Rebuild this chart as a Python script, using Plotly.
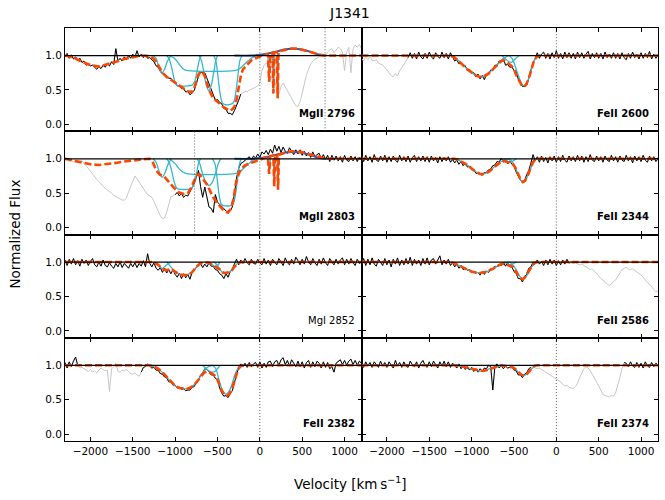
import plotly.graph_objects as go
from plotly.subplots import make_subplots

# Velocity grid (km/s) for the observed spectra
V = list(range(-2300, 1201, 25))

F_MGII2796 = [
    0.98, 1.03, 0.96, 1.01, 0.95, 0.98, 0.92, 0.96, 0.90, 0.92,
    0.86, 0.88, 0.85, 0.86, 0.83, 0.80, 0.84, 0.81, 0.86, 0.83,
    0.88, 0.85, 0.91, 0.87, 1.10, 0.92, 0.96, 0.92, 0.98, 0.94,
    1.00, 0.96, 1.02, 0.97, 1.07, 0.98, 1.02, 0.97, 1.01, 0.96,
    0.97, 0.94, 0.91, 0.85, 0.83, 0.77, 0.75, 0.71, 0.70, 0.67,
    0.67, 0.62, 0.62, 0.56, 0.56, 0.52, 0.52, 0.47, 0.48, 0.43,
    0.46, 0.49, 0.59, 0.70, 0.76, 0.76, 0.75, 0.67, 0.59, 0.49,
    0.41, 0.35, 0.36, 0.32, 0.30, 0.23, 0.22, 0.16, 0.16, 0.14,
    0.20, 0.27, 0.35, 0.44, 0.46, 0.48, 0.47, 0.50, 0.51, 0.52,
    0.54, 0.56, 0.60, 0.78, 0.86, 0.89, 0.85, 0.64, 0.72, 0.56,
    0.62, 0.44, 0.55, 0.60, 0.55, 0.48, 0.45, 0.38, 0.32, 0.27,
    0.26, 0.33, 0.45, 0.58, 0.72, 0.80, 0.88, 0.92, 0.95, 0.96,
    0.98, 1.00, 1.02, 0.99, 1.05, 1.08, 1.10, 1.04, 1.08, 1.12,
    1.10, 1.05, 0.78, 1.05, 1.12, 0.75, 1.10, 1.15, 1.12, 1.16,
    1.10]

F_MGII2803 = [
    0.97, 0.99, 0.96, 0.98, 0.95, 0.97, 0.98, 0.96, 0.97, 0.93,
    0.90, 0.86, 0.82, 0.78, 0.73, 0.70, 0.67, 0.63, 0.60, 0.57,
    0.55, 0.52, 0.50, 0.47, 0.45, 0.43, 0.42, 0.40, 0.40, 0.43,
    0.52, 0.60, 0.68, 0.75, 0.71, 0.66, 0.62, 0.55, 0.52, 0.48,
    0.46, 0.44, 0.38, 0.30, 0.24, 0.17, 0.13, 0.14, 0.22, 0.32,
    0.45, 0.46, 0.48, 0.51, 0.46, 0.50, 0.44, 0.47, 0.46, 0.53,
    0.58, 0.64, 0.72, 0.83, 0.60, 0.44, 0.59, 0.45, 0.30, 0.28,
    0.22, 0.48, 0.37, 0.34, 0.31, 0.27, 0.24, 0.21, 0.24, 0.30,
    0.49, 0.72, 0.86, 0.93, 0.95, 0.98, 1.00, 1.03, 0.98, 1.04,
    1.01, 1.07, 1.02, 1.10, 1.07, 1.12, 1.06, 1.14, 1.08, 1.20,
    1.11, 1.18, 1.09, 1.17, 1.11, 1.08, 1.16, 1.10, 1.06, 1.13,
    1.07, 1.13, 1.05, 1.11, 1.04, 1.09, 1.02, 1.10, 1.03, 1.06,
    1.08, 1.00, 1.06, 0.99, 1.05, 0.96, 1.05, 0.98, 1.04, 0.97,
    1.03, 0.95, 1.05, 0.98, 0.96, 1.04, 0.97, 1.03, 0.96, 1.02,
    1.00]

F_MGI2852 = [
    1.03, 0.95, 1.04, 0.97, 1.05, 0.96, 1.02, 0.94, 1.04, 0.98,
    1.03, 0.95, 1.01, 1.05, 0.96, 0.93, 1.00, 0.94, 1.03, 0.95,
    0.93, 0.99, 0.94, 0.91, 0.98, 0.93, 1.00, 0.92, 0.98, 0.94,
    0.91, 0.98, 0.93, 0.99, 0.92, 0.98, 0.94, 1.02, 0.93, 1.12,
    0.98, 0.93, 0.99, 0.91, 0.88, 0.92, 0.85, 0.91, 0.84, 0.89,
    0.83, 0.89, 0.82, 0.78, 0.84, 0.76, 0.83, 0.77, 0.82, 0.75,
    0.85, 0.88, 0.93, 0.96, 0.98, 0.92, 0.97, 0.93, 0.99, 0.94,
    0.94, 0.89, 0.88, 0.83, 0.81, 0.76, 0.83, 0.78, 0.86, 0.90,
    0.97, 1.04, 0.96, 1.03, 0.98, 1.05, 0.99, 0.96, 1.04, 0.98,
    0.97, 1.04, 0.99, 0.96, 1.05, 0.97, 1.03, 0.95, 1.04, 0.99,
    0.96, 1.05, 1.00, 0.95, 1.06, 0.99, 0.96, 1.04, 0.97, 1.07,
    1.02, 0.96, 1.04, 0.97, 1.08, 1.00, 0.96, 1.05, 0.99, 0.95,
    1.04, 0.97, 1.06, 0.99, 0.95, 1.05, 1.00, 0.96, 1.04, 0.97,
    1.03, 1.06, 0.96, 1.04, 0.97, 1.05, 0.99, 0.95, 1.04, 0.98,
    1.00]

F_FEII2600 = [
    0.96, 0.92, 0.98, 0.94, 0.99, 0.93, 0.92, 0.94, 0.89, 0.88,
    0.86, 0.83, 0.79, 0.75, 0.71, 0.69, 0.74, 0.70, 0.78, 0.82,
    0.88, 0.92, 0.97, 1.04, 0.96, 1.03, 0.95, 1.05, 0.98, 0.95,
    1.03, 0.96, 1.05, 0.98, 0.95, 1.04, 0.99, 0.96, 1.05, 0.97,
    1.03, 0.95, 1.04, 0.97, 0.92, 0.94, 0.88, 0.89, 0.84, 0.85,
    0.78, 0.80, 0.74, 0.75, 0.69, 0.73, 0.66, 0.71, 0.65, 0.72,
    0.72, 0.79, 0.78, 0.86, 0.85, 0.92, 0.91, 0.96, 0.86, 0.87,
    0.83, 0.84, 0.78, 0.77, 0.66, 0.61, 0.55, 0.55, 0.57, 0.67,
    0.77, 0.90, 0.95, 1.04, 0.96, 1.02, 1.05, 0.96, 1.03, 0.95,
    1.04, 0.97, 1.07, 0.96, 1.03, 0.95, 1.05, 0.97, 1.04, 0.96,
    1.03, 0.95, 1.05, 0.97, 1.04, 0.96, 1.02, 1.06, 0.95, 1.03,
    0.97, 1.04, 0.96, 1.03, 0.95, 1.05, 0.97, 1.02, 0.96, 1.04,
    0.96, 1.03, 0.95, 1.04, 0.97, 0.94, 1.03, 0.96, 1.05, 0.97,
    1.02, 0.95, 1.04, 0.96, 1.03, 0.97, 1.06, 0.95, 1.02, 0.96,
    1.01]

F_FEII2344 = [
    1.04, 0.96, 1.05, 0.97, 1.03, 0.95, 1.06, 0.98, 0.96, 1.04,
    0.97, 1.05, 0.95, 1.03, 0.96, 1.04, 0.98, 0.95, 1.05, 0.97,
    1.03, 0.96, 1.04, 0.95, 1.02, 1.05, 0.96, 1.03, 0.97, 1.04,
    0.96, 1.03, 0.95, 1.04, 0.97, 1.02, 0.94, 1.03, 0.96, 1.02,
    0.97, 1.03, 0.95, 0.99, 0.94, 0.98, 0.92, 0.96, 0.90, 0.94,
    0.88, 0.89, 0.84, 0.84, 0.79, 0.79, 0.78, 0.76, 0.80, 0.80,
    0.84, 0.85, 0.90, 0.91, 0.96, 0.95, 1.01, 0.95, 0.99, 0.93,
    0.97, 0.92, 0.90, 0.81, 0.75, 0.69, 0.67, 0.68, 0.77, 0.83,
    0.94, 1.06, 0.97, 1.03, 0.95, 1.04, 0.96, 1.02, 0.94, 1.03,
    0.97, 1.04, 0.95, 1.03, 0.96, 1.05, 0.98, 0.95, 1.04, 0.97,
    1.03, 0.96, 1.05, 0.97, 1.04, 0.95, 1.03, 0.96, 1.06, 0.98,
    0.96, 1.04, 0.97, 1.03, 0.95, 1.04, 0.98, 0.96, 1.05, 0.97,
    1.03, 0.95, 1.04, 0.98, 0.96, 1.05, 0.97, 1.03, 0.94, 1.04,
    0.97, 1.03, 0.96, 1.05, 0.98, 0.95, 1.04, 0.97, 1.03, 0.96,
    1.00]

F_FEII2586 = [
    0.98, 1.05, 0.95, 1.04, 0.96, 1.06, 0.97, 0.94, 1.04, 0.99,
    0.95, 1.05, 0.96, 1.03, 0.93, 1.04, 0.97, 1.06, 0.95, 1.03,
    0.96, 1.05, 0.97, 1.07, 0.95, 1.04, 0.97, 1.03, 0.95, 1.05,
    0.97, 1.06, 0.96, 1.03, 1.05, 0.97, 1.04, 1.09, 0.96, 1.03,
    0.97, 1.04, 0.95, 0.99, 0.93, 0.97, 0.91, 0.95, 0.89, 0.91,
    0.88, 0.89, 0.85, 0.86, 0.84, 0.85, 0.81, 0.86, 0.82, 0.87,
    0.85, 0.90, 0.89, 0.94, 0.93, 0.97, 0.95, 1.00, 0.94, 0.99,
    0.93, 0.93, 0.86, 0.84, 0.76, 0.76, 0.71, 0.79, 0.82, 0.91,
    0.93, 1.00, 0.98, 1.03, 0.97, 1.01, 0.95, 1.03, 0.96, 1.04,
    0.97, 1.03, 0.95, 1.02, 0.96, 1.03, 0.97, 1.04, 0.98, 0.99,
    0.98, 0.99, 0.97, 0.96, 0.97, 0.95, 0.93, 0.91, 0.89, 0.90,
    0.86, 0.84, 0.80, 0.76, 0.74, 0.70, 0.68, 0.66, 0.68, 0.72,
    0.74, 0.79, 0.84, 0.89, 0.91, 0.92, 0.90, 0.89, 0.90, 0.88,
    0.86, 0.83, 0.81, 0.78, 0.74, 0.70, 0.68, 0.63, 0.60, 0.57,
    0.58]

F_FEII2382 = [
    1.04, 0.96, 1.05, 0.98, 1.06, 1.12, 1.00, 0.96, 0.97, 0.95,
    0.93, 0.91, 0.94, 0.90, 0.92, 0.89, 0.93, 0.96, 0.94, 0.92,
    0.93, 0.62, 0.95, 0.98, 1.03, 0.91, 0.90, 0.93, 0.92, 0.94,
    0.91, 0.88, 0.87, 0.89, 0.86, 0.84, 0.90, 0.97, 0.98, 1.02,
    0.99, 0.96, 0.97, 0.93, 0.93, 0.88, 0.87, 0.83, 0.82, 0.76,
    0.76, 0.71, 0.71, 0.67, 0.68, 0.65, 0.66, 0.63, 0.64, 0.64,
    0.68, 0.69, 0.75, 0.78, 0.86, 0.89, 0.95, 0.94, 0.91, 0.86,
    0.86, 0.81, 0.79, 0.67, 0.60, 0.55, 0.56, 0.53, 0.59, 0.63,
    0.75, 0.88, 0.97, 1.02, 0.98, 1.03, 0.97, 1.04, 0.98, 1.02,
    1.04, 0.97, 1.05, 0.96, 1.03, 0.97, 1.05, 1.06, 0.98, 1.05,
    1.07, 1.00, 1.08, 1.11, 1.01, 1.07, 0.99, 1.08, 1.02, 0.98,
    1.06, 0.98, 1.05, 0.96, 1.04, 1.07, 0.97, 1.05, 0.98, 1.06,
    1.03, 0.96, 1.05, 0.97, 1.04, 0.95, 0.98, 0.90, 1.03, 1.06,
    1.08, 1.01, 1.07, 1.00, 1.06, 1.09, 1.01, 1.07, 1.00, 1.06,
    1.03]

F_FEII2374 = [
    1.03, 0.97, 1.05, 0.99, 1.04, 0.97, 1.05, 1.00, 0.97, 1.06,
    0.99, 1.04, 0.97, 1.05, 1.00, 0.96, 1.07, 0.99, 1.04, 0.97,
    1.05, 0.99, 0.97, 1.06, 1.01, 0.98, 1.05, 0.96, 1.03, 1.07,
    1.00, 0.97, 1.05, 0.98, 1.06, 1.01, 0.96, 1.05, 0.99, 1.06,
    0.98, 1.05, 0.97, 1.03, 0.99, 0.96, 1.02, 0.95, 1.00, 0.94,
    0.98, 0.93, 0.97, 0.91, 0.95, 0.90, 0.95, 0.91, 0.96, 0.95,
    1.00, 0.98, 0.64, 0.99, 1.02, 0.96, 1.00, 0.95, 0.99, 0.96,
    0.97, 0.99, 0.93, 0.92, 0.86, 0.86, 0.82, 0.87, 0.89, 0.95,
    0.97, 0.98, 0.96, 0.95, 0.96, 0.94, 0.93, 0.90, 0.88, 0.86,
    0.84, 0.82, 0.80, 0.78, 0.76, 0.72, 0.70, 0.71, 0.68, 0.67,
    0.66, 0.69, 0.74, 0.82, 0.90, 0.95, 0.98, 0.96, 0.92, 0.87,
    0.81, 0.76, 0.70, 0.64, 0.58, 0.56, 0.55, 0.54, 0.56, 0.55,
    0.60, 0.70, 0.82, 0.95, 1.04, 1.03, 0.98, 1.05, 0.99, 0.97,
    1.04, 0.97, 1.03, 0.96, 1.05, 0.99, 0.97, 1.04, 0.98, 1.03,
    1.00]

# ---------------- fitted model profiles (velocity, flux) ----------------
M_MGII2796 = [(-2300, 1.0), (-2200, 0.97), (-2100, 0.91), (-2000, 0.86), (-1900, 0.84),
              (-1800, 0.87), (-1700, 0.91), (-1600, 0.95), (-1500, 0.98), (-1400, 1.0),
              (-1300, 0.99), (-1250, 0.95), (-1200, 0.86), (-1150, 0.75), (-1100, 0.69),
              (-1050, 0.65), (-1000, 0.61), (-950, 0.56), (-900, 0.52), (-850, 0.48),
              (-800, 0.47), (-775, 0.53), (-750, 0.62), (-725, 0.72), (-700, 0.77),
              (-675, 0.76), (-650, 0.70), (-625, 0.60), (-600, 0.50), (-575, 0.44),
              (-550, 0.38), (-500, 0.33), (-450, 0.27), (-400, 0.23), (-350, 0.20),
              (-325, 0.22), (-300, 0.26), (-275, 0.36), (-250, 0.52), (-225, 0.70),
              (-200, 0.80), (-150, 0.87), (-100, 0.93), (-50, 0.96), (0, 0.99),
              (50, 1.01), (95, 1.02), (110, 0.62), (125, 1.03), (150, 1.04),
              (160, 0.45), (170, 1.04), (200, 1.05), (210, 0.38), (220, 1.05),
              (250, 1.07), (300, 1.08), (360, 1.10), (450, 1.10), (550, 1.07),
              (650, 1.03), (750, 1.0), (1200, 1.0)]

M_MGII2803 = [(-2300, 1.0), (-2200, 0.97), (-2100, 0.94), (-2000, 0.92), (-1900, 0.91),
              (-1800, 0.92), (-1700, 0.94), (-1600, 0.96), (-1500, 0.98), (-1400, 0.99),
              (-1300, 1.0), (-1270, 0.97), (-1240, 0.88), (-1210, 0.81), (-1180, 0.77),
              (-1150, 0.75), (-1125, 0.74), (-1100, 0.70), (-1050, 0.63), (-1000, 0.56),
              (-950, 0.51), (-900, 0.49), (-850, 0.50), (-815, 0.57), (-775, 0.68),
              (-740, 0.76), (-716, 0.78), (-690, 0.74), (-657, 0.68), (-620, 0.62),
              (-598, 0.56), (-560, 0.46), (-519, 0.38), (-480, 0.32), (-441, 0.27),
              (-400, 0.23), (-380, 0.22), (-342, 0.27), (-310, 0.42), (-283, 0.64),
              (-250, 0.78), (-224, 0.85), (-180, 0.90), (-126, 0.93), (-60, 0.96),
              (-8, 0.98), (40, 1.01), (95, 1.03), (110, 0.78), (125, 1.04),
              (160, 1.05), (170, 0.60), (180, 1.05), (205, 1.06), (215, 0.55),
              (225, 1.06), (300, 1.09), (380, 1.11), (480, 1.10), (580, 1.07),
              (680, 1.03), (780, 1.0), (1200, 1.0)]

M_MGI2852 = [(-2300, 1.0), (-1250, 1.0), (-1200, 0.96), (-1150, 0.90), (-1100, 0.88),
             (-1060, 0.89), (-1040, 0.90), (-1000, 0.86), (-950, 0.82), (-900, 0.81),
             (-850, 0.81), (-800, 0.85), (-750, 0.93), (-700, 0.98), (-650, 0.995),
             (-600, 0.99), (-560, 0.96), (-530, 0.93), (-500, 0.92), (-470, 0.89),
             (-440, 0.85), (-410, 0.84), (-370, 0.85), (-330, 0.88), (-300, 0.93),
             (-260, 0.98), (-220, 1.0), (1200, 1.0)]

M_FEII2600 = [(-2300, 1.0), (-1250, 1.0), (-1200, 0.97), (-1150, 0.92), (-1100, 0.86),
              (-1050, 0.80), (-1000, 0.75), (-950, 0.71), (-900, 0.69), (-850, 0.70),
              (-800, 0.74), (-750, 0.80), (-700, 0.87), (-650, 0.92), (-620, 0.93),
              (-590, 0.91), (-560, 0.88), (-530, 0.85), (-500, 0.80), (-470, 0.71),
              (-440, 0.63), (-410, 0.57), (-385, 0.55), (-360, 0.57), (-330, 0.65),
              (-300, 0.78), (-270, 0.90), (-240, 0.97), (-210, 1.0), (1200, 1.0)]

M_FEII2344 = [(-2300, 1.0), (-1200, 1.0), (-1150, 0.98), (-1100, 0.95), (-1050, 0.91),
              (-1000, 0.86), (-950, 0.81), (-900, 0.78), (-850, 0.78), (-800, 0.81),
              (-750, 0.86), (-700, 0.92), (-650, 0.96), (-620, 0.97), (-580, 0.95),
              (-540, 0.94), (-510, 0.92), (-480, 0.86), (-450, 0.76), (-420, 0.69),
              (-395, 0.66), (-370, 0.68), (-340, 0.75), (-310, 0.85), (-280, 0.94),
              (-250, 0.99), (-220, 1.0), (1200, 1.0)]

M_FEII2586 = [(-2300, 1.0), (-1250, 1.0), (-1200, 0.98), (-1150, 0.95), (-1100, 0.92),
              (-1050, 0.89), (-1000, 0.86), (-950, 0.85), (-900, 0.84), (-850, 0.85),
              (-800, 0.87), (-750, 0.90), (-700, 0.94), (-650, 0.97), (-620, 0.975),
              (-580, 0.96), (-540, 0.95), (-510, 0.93), (-480, 0.87), (-450, 0.80),
              (-420, 0.76), (-395, 0.75), (-370, 0.78), (-340, 0.84), (-310, 0.91),
              (-280, 0.96), (-250, 0.99), (-220, 1.0), (1200, 1.0)]

M_FEII2382 = [(-2300, 1.0), (-1300, 1.0), (-1250, 0.98), (-1200, 0.95), (-1150, 0.90),
              (-1100, 0.83), (-1050, 0.76), (-1000, 0.70), (-950, 0.67), (-900, 0.66),
              (-850, 0.66), (-800, 0.69), (-750, 0.75), (-700, 0.83), (-660, 0.89),
              (-630, 0.91), (-600, 0.90), (-570, 0.88), (-540, 0.86), (-510, 0.82),
              (-480, 0.73), (-450, 0.63), (-420, 0.58), (-390, 0.56), (-360, 0.58),
              (-330, 0.65), (-300, 0.77), (-270, 0.89), (-240, 0.97), (-210, 1.0),
              (1200, 1.0)]

M_FEII2374 = [(-2300, 1.0), (-1200, 1.0), (-1100, 0.98), (-1000, 0.95), (-950, 0.93),
              (-900, 0.92), (-850, 0.92), (-800, 0.94), (-750, 0.97), (-700, 0.99),
              (-650, 1.0), (-600, 0.99), (-560, 0.98), (-520, 0.97), (-480, 0.94),
              (-440, 0.89), (-410, 0.86), (-380, 0.85), (-350, 0.87), (-320, 0.91),
              (-290, 0.96), (-260, 0.99), (-230, 1.0), (1200, 1.0)]

# ---------------- individual velocity components (velocity, flux) ----------------
C_MGII2796 = [
    [(-1260, 1.0), (-1225, 0.96), (-1195, 0.84), (-1160, 0.74), (-1125, 0.80), (-1090, 0.92), (-1050, 1.0)],
    [(-1100, 1.0), (-1070, 0.95), (-1040, 0.82), (-1010, 0.65), (-990, 0.58), (-960, 0.56),
     (-850, 0.56), (-800, 0.57), (-770, 0.62), (-740, 0.78), (-715, 0.93), (-690, 1.0)],
    [(-1070, 1.0), (-1000, 0.95), (-950, 0.87), (-900, 0.80), (-850, 0.78), (-300, 0.78),
     (-250, 0.80), (-200, 0.85), (-150, 0.91), (-100, 0.96), (-40, 1.0)],
    [(-720, 1.0), (-690, 0.93), (-660, 0.75), (-630, 0.56), (-602, 0.49), (-575, 0.56),
     (-545, 0.75), (-520, 0.93), (-500, 1.0)],
    [(-545, 1.0), (-520, 0.93), (-495, 0.70), (-470, 0.45), (-445, 0.32), (-420, 0.29),
     (-350, 0.29), (-310, 0.32), (-285, 0.45), (-260, 0.70), (-235, 0.93), (-210, 1.0)],
]
C_MGII2803 = [
    [(-1260, 1.0), (-1225, 0.95), (-1190, 0.82), (-1155, 0.73), (-1115, 0.81), (-1080, 0.93), (-1045, 1.0)],
    [(-1100, 1.0), (-1070, 0.95), (-1040, 0.82), (-1010, 0.66), (-990, 0.59), (-960, 0.56),
     (-830, 0.56), (-800, 0.58), (-770, 0.66), (-745, 0.80), (-725, 0.93), (-700, 1.0)],
    [(-1070, 1.0), (-1000, 0.93), (-950, 0.85), (-900, 0.80), (-850, 0.78), (-320, 0.78),
     (-250, 0.80), (-200, 0.85), (-150, 0.91), (-100, 0.96), (-60, 1.0)],
    [(-740, 1.0), (-710, 0.93), (-680, 0.80), (-640, 0.66), (-600, 0.61), (-560, 0.66),
     (-520, 0.80), (-490, 0.93), (-460, 1.0)],
    [(-560, 1.0), (-530, 0.93), (-505, 0.72), (-480, 0.47), (-455, 0.34), (-430, 0.32),
     (-340, 0.32), (-310, 0.36), (-285, 0.50), (-260, 0.75), (-240, 0.93), (-220, 1.0)],
]
C_MGI2852 = [
    [(-1250, 1.0), (-1200, 0.96), (-1150, 0.905), (-1100, 0.96), (-1050, 1.0)],
    [(-1100, 1.0), (-1050, 0.93), (-1000, 0.86), (-900, 0.81), (-800, 0.85), (-750, 0.93), (-700, 1.0)],
    [(-600, 1.0), (-560, 0.96), (-530, 0.93), (-500, 0.95), (-470, 1.0)],
    [(-540, 1.0), (-500, 0.95), (-450, 0.86), (-410, 0.84), (-350, 0.86), (-300, 0.93), (-250, 1.0)],
]
C_FEII2600 = [
    [(-1250, 1.0), (-1150, 0.92), (-1050, 0.80), (-950, 0.71), (-880, 0.69), (-800, 0.74),
     (-700, 0.87), (-620, 0.96), (-560, 1.0)],
    [(-640, 1.0), (-600, 0.95), (-560, 0.91), (-530, 0.90), (-500, 0.93), (-470, 0.97), (-440, 1.0)],
    [(-560, 1.0), (-520, 0.95), (-470, 0.79), (-420, 0.62), (-385, 0.56), (-350, 0.60),
     (-310, 0.72), (-270, 0.90), (-230, 1.0)],
]
C_FEII2344 = [
    [(-1200, 1.0), (-1100, 0.95), (-1000, 0.86), (-920, 0.79), (-870, 0.78), (-800, 0.81),
     (-700, 0.92), (-620, 0.98), (-560, 1.0)],
    [(-620, 1.0), (-580, 0.97), (-545, 0.95), (-510, 0.97), (-470, 1.0)],
    [(-560, 1.0), (-520, 0.96), (-470, 0.83), (-430, 0.71), (-400, 0.67), (-370, 0.69),
     (-330, 0.77), (-290, 0.90), (-240, 1.0)],
]
C_FEII2586 = [
    [(-1250, 1.0), (-1150, 0.95), (-1050, 0.89), (-950, 0.85), (-880, 0.84), (-800, 0.87),
     (-700, 0.94), (-620, 0.99), (-560, 1.0)],
    [(-620, 1.0), (-580, 0.975), (-545, 0.96), (-510, 0.975), (-470, 1.0)],
    [(-560, 1.0), (-520, 0.97), (-470, 0.88), (-430, 0.79), (-400, 0.75), (-370, 0.77),
     (-330, 0.84), (-290, 0.93), (-240, 1.0)],
]
C_FEII2382 = [
    [(-1300, 1.0), (-1200, 0.95), (-1100, 0.83), (-1000, 0.70), (-900, 0.66), (-850, 0.66),
     (-750, 0.75), (-680, 0.88), (-620, 0.97), (-560, 1.0)],
    [(-680, 1.0), (-640, 0.96), (-600, 0.92), (-560, 0.90), (-530, 0.91), (-500, 0.95), (-470, 1.0)],
    [(-560, 1.0), (-520, 0.95), (-480, 0.78), (-440, 0.63), (-405, 0.58), (-370, 0.61),
     (-330, 0.72), (-290, 0.88), (-240, 1.0)],
]
C_FEII2374 = [
    [(-1200, 1.0), (-1100, 0.98), (-1000, 0.95), (-920, 0.92), (-850, 0.92), (-750, 0.97), (-650, 1.0)],
    [(-560, 1.0), (-500, 0.97), (-450, 0.90), (-400, 0.85), (-350, 0.87), (-300, 0.94), (-240, 1.0)],
]

# narrow absorbers near +100..+220 km/s (MgII only)
S_MGII2796 = [(95, 1.0), (110, 0.62), (125, 1.0), (None, None), (150, 1.0), (160, 0.45), (170, 1.0),
              (None, None), (200, 1.0), (210, 0.38), (220, 1.0)]
S_MGII2803 = [(95, 1.0), (110, 0.78), (125, 1.0), (None, None), (160, 1.0), (170, 0.60), (180, 1.0),
              (None, None), (205, 1.0), (215, 0.55), (225, 1.0)]

# emission component (MgII only)
E_MGII = [(-300, 1.0), (-100, 1.0), (0, 1.01), (100, 1.03), (200, 1.06), (300, 1.09),
          (380, 1.10), (480, 1.09), (580, 1.06), (680, 1.02), (780, 1.0)]

# ---------------- panel definitions ----------------
PANELS = [
    dict(row=1, col=1, label="MgII 2796", bold=True, flux=F_MGII2796, black=[(-2300, -225)],
         model=M_MGII2796, comps=C_MGII2796, spikes=S_MGII2796, emis=E_MGII, vlines=[0, 770]),
    dict(row=1, col=2, label="FeII 2600", bold=True, flux=F_FEII2600, black=[(-1750, 1200)],
         model=M_FEII2600, comps=C_FEII2600, spikes=None, emis=None, vlines=[0]),
    dict(row=2, col=1, label="MgII 2803", bold=True, flux=F_MGII2803, black=[(-1000, 1200)],
         model=M_MGII2803, comps=C_MGII2803, spikes=S_MGII2803, emis=E_MGII, vlines=[0, -770]),
    dict(row=2, col=2, label="FeII 2344", bold=True, flux=F_FEII2344, black=[(-2300, 1200)],
         model=M_FEII2344, comps=C_FEII2344, spikes=None, emis=None, vlines=[0]),
    dict(row=3, col=1, label="MgI 2852", bold=False, flux=F_MGI2852, black=[(-2300, 1200)],
         model=M_MGI2852, comps=C_MGI2852, spikes=None, emis=None, vlines=[0]),
    dict(row=3, col=2, label="FeII 2586", bold=True, flux=F_FEII2586, black=[(-2300, 150)],
         model=M_FEII2586, comps=C_FEII2586, spikes=None, emis=None, vlines=[0]),
    dict(row=4, col=1, label="FeII 2382", bold=True, flux=F_FEII2382, black=[(-2300, -2150), (-1400, 1200)],
         model=M_FEII2382, comps=C_FEII2382, spikes=None, emis=None, vlines=[0]),
    dict(row=4, col=2, label="FeII 2374", bold=True, flux=F_FEII2374, black=[(-2300, -300), (800, 1200)],
         model=M_FEII2374, comps=C_FEII2374, spikes=None, emis=None, vlines=[0]),
]

XR = [-2300, 1200]
YR = [-0.1, 1.4]
XTICKS = [-2000, -1500, -1000, -500, 0, 500, 1000]
YTICKS = [0.0, 0.5, 1.0]
YTICKTEXT = ["0.0", "0.5", "1.0"]

GRAY = "#c6c6c6"
CYAN = "#33b9cd"
ORANGE = "#ff4500"
BLUE = "#2a5aa8"
FONT = "DejaVu Sans"

fig = make_subplots(rows=4, cols=2, horizontal_spacing=0, vertical_spacing=0)


def unzip(pairs):
    return [p[0] for p in pairs], [p[1] for p in pairs]


for k, p in enumerate(PANELS):
    r, c = p["row"], p["col"]
    assert len(p["flux"]) == len(V), (p["label"], len(p["flux"]))
    fig.add_trace(go.Scatter(x=V, y=p["flux"], mode="lines",
                             line=dict(color=GRAY, width=1), hoverinfo="skip"), row=r, col=c)
    yb = [f if any(a <= v <= b for a, b in p["black"]) else None for v, f in zip(V, p["flux"])]
    fig.add_trace(go.Scatter(x=V, y=yb, mode="lines",
                             line=dict(color="black", width=1), hoverinfo="skip"), row=r, col=c)
    for comp in p["comps"]:
        cx, cy = unzip(comp)
        fig.add_trace(go.Scatter(x=cx, y=cy, mode="lines",
                                 line=dict(color=CYAN, width=1.3, shape="spline", smoothing=0.8),
                                 hoverinfo="skip"), row=r, col=c)
    if p["spikes"]:
        sx, sy = unzip(p["spikes"])
        fig.add_trace(go.Scatter(x=sx, y=sy, mode="lines", connectgaps=False,
                                 line=dict(color=CYAN, width=1.3), hoverinfo="skip"), row=r, col=c)
    if p["emis"]:
        ex, ey = unzip(p["emis"])
        fig.add_trace(go.Scatter(x=ex, y=ey, mode="lines",
                                 line=dict(color=BLUE, width=2, shape="spline"), hoverinfo="skip"),
                      row=r, col=c)
    mx, my = unzip(p["model"])
    fig.add_trace(go.Scatter(x=mx, y=my, mode="lines",
                             line=dict(color=ORANGE, width=2.6, dash="7px,3px"), hoverinfo="skip"),
                  row=r, col=c)
    fig.add_trace(go.Scatter(x=XR, y=[1.0, 1.0], mode="lines",
                             line=dict(color="black", width=1.3), hoverinfo="skip"), row=r, col=c)

    xref = "x" if k == 0 else f"x{k + 1}"
    yref = "y" if k == 0 else f"y{k + 1}"
    for xv in p["vlines"]:
        fig.add_shape(type="line", x0=xv, x1=xv, y0=0, y1=1, xref=xref, yref=f"{yref} domain",
                      line=dict(color="#333333", width=0.8, dash="1px,2px"))
    txt = f"<b>{p['label']}</b>" if p["bold"] else p["label"]
    fig.add_annotation(x=0.985 if c == 1 else 0.975, y=0.17, xref=f"{xref} domain",
                       yref=f"{yref} domain", text=txt, showarrow=False, xanchor="right",
                       yanchor="middle", font=dict(family=FONT, size=10, color="black"))

fig.update_xaxes(range=XR, tickvals=XTICKS, ticks="inside", ticklen=4, tickwidth=1,
                 tickcolor="black", showline=True, linecolor="black", linewidth=1,
                 mirror="ticks", showgrid=False, zeroline=False, showticklabels=False,
                 tickfont=dict(family=FONT, size=10.5, color="black"))
fig.update_xaxes(showticklabels=True, row=4)
fig.update_yaxes(range=YR, tickvals=YTICKS, ticktext=YTICKTEXT, ticks="inside", ticklen=4,
                 tickwidth=1, tickcolor="black", showline=True, linecolor="black", linewidth=1,
                 mirror="ticks", showgrid=False, zeroline=False, showticklabels=False,
                 tickfont=dict(family=FONT, size=10.5, color="black"))
fig.update_yaxes(showticklabels=True, col=1)

fig.add_annotation(x=0.4806, y=1.0363, xref="paper", yref="paper", text="J1341", showarrow=False,
                   xanchor="center", yanchor="middle", font=dict(family=FONT, size=14, color="black"))
fig.add_annotation(x=0.4806, y=-0.102, xref="paper", yref="paper",
                   text="Velocity [km\u2009s<sup>\u22121</sup>]", showarrow=False,
                   xanchor="center", yanchor="middle", font=dict(family=FONT, size=13.5, color="black"))
fig.add_annotation(x=-0.086, y=0.5, xref="paper", yref="paper", text="Normalized Flux",
                   textangle=-90, showarrow=False, xanchor="center", yanchor="middle",
                   font=dict(family=FONT, size=13.5, color="black"))

fig.update_layout(width=665, height=500, margin=dict(l=65, r=7, t=28, b=59),
                  plot_bgcolor="white", paper_bgcolor="white", showlegend=False,
                  font=dict(family=FONT, color="black"))

fig.write_html("out.html", config={"displayModeBar": False},
               post_script="document.body.style.margin='0';document.body.style.overflow='hidden';")
